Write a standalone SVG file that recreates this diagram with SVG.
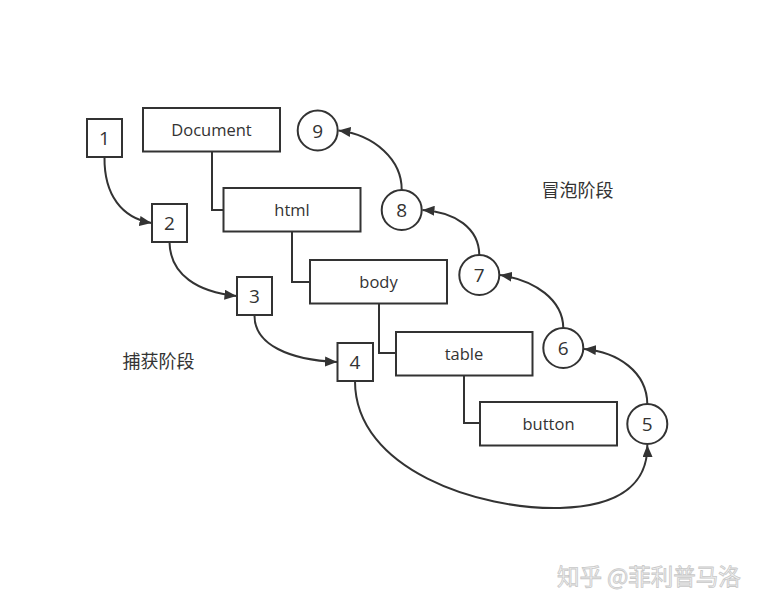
<svg xmlns="http://www.w3.org/2000/svg" width="760" height="609" viewBox="0 0 760 609">
<defs>
<style>
.box{fill:#fff;stroke:#333;stroke-width:2}
.lbl{font-family:"Open Sans","Noto Sans","Liberation Sans",sans-serif;font-size:16.5px;fill:#333;text-anchor:middle;dominant-baseline:central}
.num{font-family:"Open Sans","Noto Sans","Liberation Sans",sans-serif;font-size:19px;fill:#333;text-anchor:middle;dominant-baseline:central}
.cjk{font-family:"Noto Sans CJK SC","Noto Sans",sans-serif;font-size:18px;fill:#333}
.tree{fill:none;stroke:#333;stroke-width:2}
.arr{fill:none;stroke:#333;stroke-width:2;marker-end:url(#ah)}
</style>
<marker id="ah" viewBox="0 0 12 10" refX="12" refY="5" markerWidth="12" markerHeight="10" markerUnits="userSpaceOnUse" orient="auto">
<path d="M0,0 L12,5 L0,10 Z" fill="#333"/>
</marker>
</defs>
<rect width="760" height="609" fill="#fff"/>

<g id="connectors">
<path class="tree" d="M212,152 V210 H223"/>
<path class="tree" d="M292,231 V282 H310"/>
<path class="tree" d="M379,303 V353 H396"/>
<path class="tree" d="M464,375 V423 H480"/>
<path class="arr" d="M104.5,157 C104,195 122,218 151.5,223"/>
<path class="arr" d="M169.5,242 C170,275 198,292 236.5,296"/>
<path class="arr" d="M254.5,315 C254,345 290,360 337,362"/>
<path class="arr" d="M355,381 C355,470 480,510 560,508 C625,506 648,480 647.3,445"/>
<path class="arr" d="M647.3,404 C647,372 618,352 584,349"/>
<path class="arr" d="M563.3,328 C563,300 535,280 500,275"/>
<path class="arr" d="M479.3,255 C479,228 455,212 422.5,210"/>
<path class="arr" d="M401.7,190 C402,160 375,135 338.5,130.5"/>
</g>

<g id="n1"><rect class="box" x="87" y="119" width="35" height="38"/><text class="num" x="104.5" y="138">1</text></g>
<g id="n2"><rect class="box" x="152" y="204" width="35" height="38"/><text class="num" x="169.5" y="223">2</text></g>
<g id="n3"><rect class="box" x="237" y="277" width="35" height="38"/><text class="num" x="254.5" y="296">3</text></g>
<g id="n4"><rect class="box" x="337.5" y="343" width="35.5" height="38"/><text class="num" x="355" y="362">4</text></g>

<g id="document"><rect class="box" x="143" y="108" width="137" height="43.5"/><text class="lbl" x="211.5" y="129.5">Document</text></g>
<g id="html"><rect class="box" x="223.5" y="188" width="137" height="43.5"/><text class="lbl" x="292" y="209.5">html</text></g>
<g id="body"><rect class="box" x="310" y="260" width="137" height="43.5"/><text class="lbl" x="378.5" y="281.5">body</text></g>
<g id="table"><rect class="box" x="396" y="332" width="136.5" height="43.5"/><text class="lbl" x="464" y="353.5">table</text></g>
<g id="button"><rect class="box" x="480" y="402" width="137" height="43.5"/><text class="lbl" x="548.5" y="423.5">button</text></g>

<g id="n5"><circle class="box" cx="647.3" cy="424" r="20"/><text class="num" x="647.3" y="424">5</text></g>
<g id="n6"><circle class="box" cx="563.3" cy="348" r="20"/><text class="num" x="563.3" y="348">6</text></g>
<g id="n7"><circle class="box" cx="479.3" cy="275" r="20"/><text class="num" x="479.3" y="275">7</text></g>
<g id="n8"><circle class="box" cx="401.7" cy="210" r="20"/><text class="num" x="401.7" y="210">8</text></g>
<g id="n9"><circle class="box" cx="317.7" cy="130.5" r="20"/><text class="num" x="317.7" y="130.5">9</text></g>

<g id="labels">
<text class="cjk" x="541.5" y="197">冒泡阶段</text>
<text class="cjk" x="122.5" y="367.5">捕获阶段</text>
<text x="557" y="585" font-family="Noto Sans CJK SC,Noto Sans,sans-serif" font-size="22.5" fill="#f4f4f4" stroke="#c8c8c8" stroke-width="0.8">知乎 @菲利普马洛</text>
</g>
</svg>
